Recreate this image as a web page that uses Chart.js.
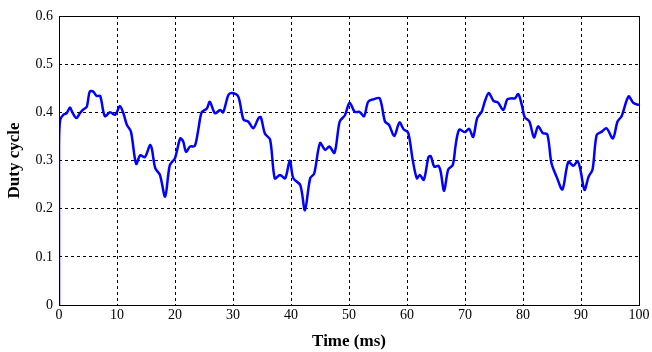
<!DOCTYPE html>
<html>
<head>
<meta charset="utf-8">
<script src="https://cdn.jsdelivr.net/npm/chart.js@4/dist/chart.umd.min.js"></script>
<style>
  html, body { margin: 0; padding: 0; background: #fff; }
  #wrap { width: 652px; height: 352px; }
</style>
</head>
<body>
<div id="wrap"><canvas id="chart" width="652" height="352"></canvas></div>
<script>
// time in ms, duty cycle
var timeMs = [0, 0, 0.2, 0.75, 1.3, 1.9, 2.3, 3.0, 3.6, 4.2, 4.8, 5.3, 5.9, 6.5, 7.1, 7.9, 8.8, 9.7,
  10.5, 11.1, 11.7, 12.4, 13.3, 14.0, 14.8, 15.7, 16.0, 16.6, 17.4, 18.3, 19.1, 20.0, 20.9, 21.4,
  21.9, 22.6, 23.4, 24.0, 24.6, 25.5, 26.0, 26.9, 27.8, 28.3, 29.2, 29.8, 30.9, 31.8, 32.6, 33.5,
  34.4, 34.8, 35.5, 36.4, 37.2, 38.1, 39.0, 39.8, 40.4, 41.6, 42.4, 43.3, 44.0, 45.0, 45.9, 46.6,
  47.5, 48.4, 49.3, 50.1, 51.0, 51.8, 52.6, 53.3, 54.2, 55.3, 56.2, 56.9, 57.8, 58.7, 59.4, 60.2,
  61.0, 61.7, 62.2, 62.9, 63.7, 64.1, 64.7, 65.4, 65.8, 66.4, 67.1, 67.9, 68.4, 69.0, 70.0, 70.7,
  71.4, 72.1, 72.9, 73.4, 74.1, 74.9, 75.7, 76.6, 77.3, 78.0, 78.6, 79.2, 79.8, 80.3, 81.1, 81.9,
  82.6, 83.4, 84.2, 84.9, 85.8, 86.8, 87.8, 88.7, 89.4, 89.9, 90.6, 91.3, 92.0, 92.7, 93.6, 94.4,
  95.5, 96.3, 97.0, 98.2, 99.0, 100];
var dutyCycle = [0, 0.33, 0.384, 0.395, 0.398, 0.41, 0.40, 0.388, 0.398, 0.406, 0.412, 0.443, 0.443, 0.434, 0.434, 0.392, 0.40, 0.395,
  0.413, 0.398, 0.374, 0.36, 0.293, 0.311, 0.307, 0.332, 0.325, 0.284, 0.27, 0.225, 0.29, 0.305, 0.346, 0.34,
  0.318, 0.329, 0.33, 0.363, 0.40, 0.408, 0.422, 0.398, 0.405, 0.40, 0.436, 0.44, 0.433, 0.385, 0.381, 0.367,
  0.388, 0.39, 0.356, 0.343, 0.263, 0.27, 0.263, 0.30, 0.263, 0.249, 0.197, 0.263, 0.273, 0.336, 0.322, 0.329,
  0.316, 0.381, 0.394, 0.42, 0.401, 0.401, 0.392, 0.422, 0.427, 0.429, 0.381, 0.374, 0.351, 0.379, 0.365, 0.358,
  0.30, 0.263, 0.27, 0.26, 0.307, 0.309, 0.287, 0.289, 0.277, 0.237, 0.281, 0.291, 0.333, 0.364, 0.359, 0.366,
  0.349, 0.388, 0.402, 0.422, 0.44, 0.424, 0.42, 0.405, 0.427, 0.429, 0.429, 0.438, 0.415, 0.39, 0.381, 0.348,
  0.371, 0.357, 0.354, 0.295, 0.266, 0.24, 0.297, 0.289, 0.299, 0.281, 0.239, 0.266, 0.282, 0.353, 0.36, 0.367,
  0.346, 0.381, 0.392, 0.433, 0.42, 0.415];
var xTicks = [0, 10, 20, 30, 40, 50, 60, 70, 80, 90, 100];
var yTicks = [0, 0.1, 0.2, 0.3, 0.4, 0.5, 0.6];

var points = timeMs.map(function (t, i) { return { x: t, y: dutyCycle[i] }; });

// solid box round the plot area, like MATLAB "box on"
var boxPlugin = {
  id: 'box',
  afterDatasetsDraw: function (chart) {
    var a = chart.chartArea, ctx = chart.ctx;
    ctx.save();
    ctx.strokeStyle = '#000';
    ctx.lineWidth = 1;
    ctx.strokeRect(Math.round(a.left) + 0.5, Math.round(a.top) + 0.5,
      Math.round(a.right - a.left), Math.round(a.bottom - a.top));
    ctx.restore();
  }
};

var serif = '"Liberation Serif", "Times New Roman", serif';

new Chart(document.getElementById('chart'), {
  type: 'line',
  data: {
    datasets: [{
      data: points,
      borderColor: '#0000ff',
      borderWidth: 2.5,
      pointRadius: 0,
      tension: 0.3,
      fill: false
    }]
  },
  plugins: [boxPlugin],
  options: {
    responsive: false,
    animation: false,
    layout: { padding: { top: 16, right: 13, left: 0, bottom: 0 } },
    plugins: { legend: { display: false }, tooltip: { enabled: false } },
    scales: {
      x: {
        type: 'linear',
        min: 0,
        max: 100,
        afterBuildTicks: function (axis) { axis.ticks = xTicks.map(function (v) { return { value: v }; }); },
        afterFit: function (axis) { axis.height = 47; },
        grid: { color: '#000', lineWidth: 1, drawTicks: false },
        border: { display: false, dash: [3, 3] },
        ticks: { color: '#000', font: { family: serif, size: 14 }, padding: 2, maxRotation: 0 },
        title: { display: true, text: 'Time (ms)', color: '#000', font: { family: serif, size: 17, weight: 'bold' }, padding: { top: 6, bottom: 0 } }
      },
      y: {
        min: 0,
        max: 0.6,
        afterBuildTicks: function (axis) { axis.ticks = yTicks.map(function (v) { return { value: v }; }); },
        afterFit: function (axis) { axis.width = 59; },
        grid: { color: '#000', lineWidth: 1, drawTicks: false },
        border: { display: false, dash: [3, 3] },
        ticks: { color: '#000', font: { family: serif, size: 14 }, padding: 6,
          callback: function (v) { return v === 0 ? '0' : v.toFixed(1); } },
        title: { display: true, text: 'Duty cycle', color: '#000', font: { family: serif, size: 17, weight: 'bold' }, padding: { bottom: 2 } }
      }
    }
  }
});
</script>
</body>
</html>
